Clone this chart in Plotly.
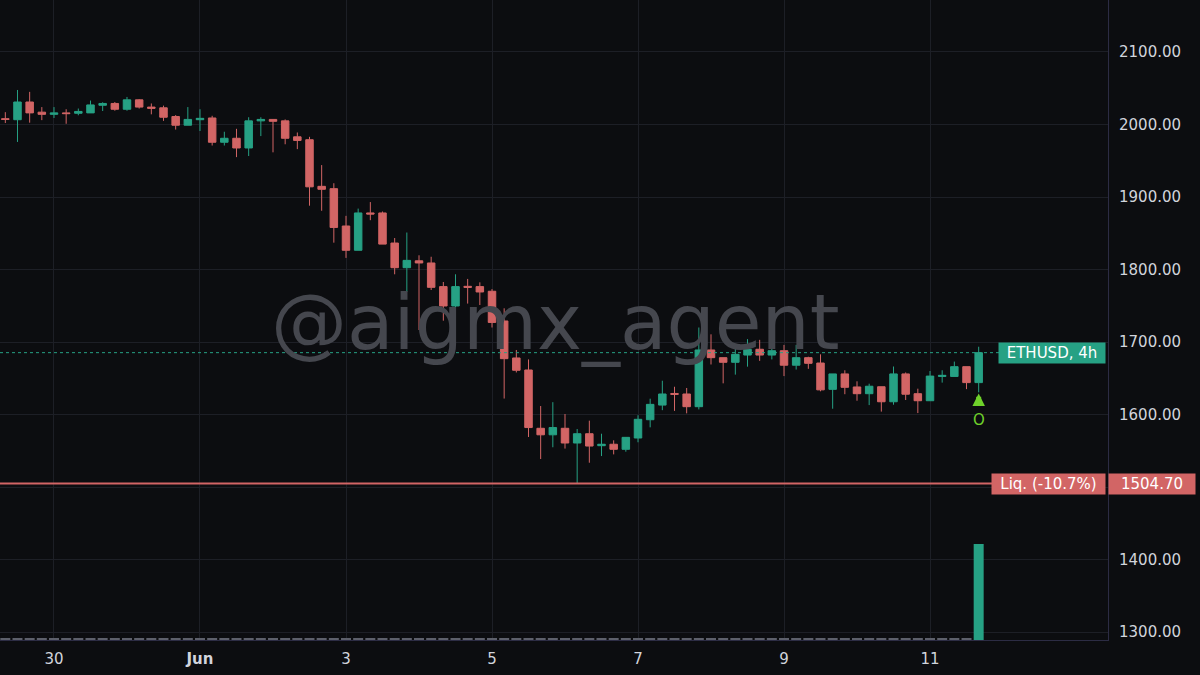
import pandas as pd
import plotly.graph_objects as go

# ---- data ----
start_time = "2023-05-29 08:00"
opens = [2008, 2006.6, 2031, 2017, 2014, 2016, 2015.5, 2016, 2026.5, 2029,
         2021, 2034, 2024, 2023, 2011, 1999, 2006.6, 2009, 1975.5, 1981,
         1967.6, 2005, 2007, 2005, 1983, 1979, 1914.7, 1911.5, 1860, 1826.5,
         1878, 1878, 1836.5, 1802.5, 1812, 1809, 1776.4, 1749.7, 1776.8, 1776.4,
         1770, 1729, 1678, 1661.4, 1581, 1572, 1581, 1560.7, 1573.5, 1557,
         1559, 1552, 1567.6, 1592.8, 1613, 1629, 1628.3, 1610.8, 1689, 1678.4,
         1672, 1682, 1690, 1682, 1688, 1668, 1678.4, 1671, 1634.7, 1656,
         1638, 1628.7, 1638.3, 1617.6, 1656, 1628.7, 1619, 1652.5, 1652.5, 1666,
         1644]
highs = [2017, 2047.6, 2045, 2024, 2024, 2021, 2022, 2033, 2030.6, 2031,
         2038, 2035, 2029, 2026, 2013, 2024, 2021, 2012, 1990, 1994,
         2010, 2010, 2007, 2007, 1989, 1983, 1944, 1919, 1874, 1884,
         1893, 1880, 1843.4, 1851, 1819.6, 1817.6, 1782.8, 1793.4, 1787, 1782.3,
         1773, 1746.5, 1689, 1676, 1611.7, 1617, 1600.7, 1580, 1591.5, 1573.5,
         1564.4, 1568.5, 1599, 1621.8, 1646.6, 1638.3, 1636.6, 1720, 1710.6, 1678.4,
         1696, 1704, 1703, 1713, 1696, 1696, 1679.7, 1683, 1656, 1661,
         1645.8, 1642.5, 1638.3, 1666.2, 1658, 1635.6, 1660, 1661, 1673, 1666,
         1693.5]
lows = [2002, 1975.9, 2002.5, 2006, 2009, 2001, 2012.7, 2016, 2018.6, 2019,
        2019, 2022, 2014, 2005, 1993, 1999, 1991, 1971, 1971, 1955,
        1956.5, 1984, 1961.6, 1972.7, 1966, 1888, 1881, 1837, 1816, 1826.5,
        1868, 1835, 1793.4, 1769, 1716.5, 1771.7, 1729.4, 1742.7, 1753, 1751,
        1720, 1622, 1658, 1569, 1538.6, 1554.8, 1553, 1505, 1533.5, 1542.7,
        1545, 1548.7, 1561.7, 1582.3, 1606, 1605, 1601.6, 1607, 1669, 1643,
        1655, 1666, 1674, 1676, 1653, 1662, 1663, 1632, 1608, 1628,
        1619, 1613, 1604, 1613.5, 1620, 1602, 1619, 1644, 1652.5, 1635,
        1630.6]
closes = [2007, 2031, 2016, 2014, 2016, 2015, 2018, 2027, 2029, 2021,
          2034, 2024, 2022.3, 2010, 1999, 2007, 2008.5, 1975.5, 1981, 1967.6,
          2005, 2007, 2004.4, 1981, 1978, 1914, 1910.6, 1858, 1826.5, 1878,
          1876.5, 1835, 1802.5, 1812.6, 1809, 1775.4, 1749.7, 1776.4, 1775.4, 1769,
          1727, 1677, 1661, 1582, 1572, 1582, 1560.7, 1573.5, 1556.5, 1559,
          1552, 1568.5, 1593.4, 1614, 1628.3, 1627.8, 1610.8, 1689, 1678.4, 1672,
          1683, 1690, 1682, 1688, 1668, 1678.4, 1670.6, 1634, 1656, 1637.5,
          1628.7, 1639, 1617.6, 1656, 1628, 1619, 1653, 1654, 1666, 1644,
          1685.3]
volumes = [1] * 80 + [48]
volume_colors = ["#5d606b"] * 80 + ["#26a184"]

tick_dates = ["2023-05-30", "2023-06-01", "2023-06-03", "2023-06-05",
              "2023-06-07", "2023-06-09", "2023-06-11"]
tick_labels = ["30", "<b>Jun</b>", "3", "5", "7", "9", "11"]
price_ticks = [1300, 1400, 1500, 1600, 1700, 1800, 1900, 2000, 2100]
price_tick_labels = ["1300.00", "1400.00", "", "1600.00", "1700.00",
                     "1800.00", "1900.00", "2000.00", "2100.00"]

last_price = 1685.3
liq_price = 1504.70
symbol_label = "ETHUSD, 4h"
liq_label = "Liq. (-10.7%)"
watermark = "@aigmx_agent"
arrow_tip_price = 1629
arrow_tail_price = 1610
signal_price = 1592
signal_text = "O"

times = pd.date_range(start_time, periods=len(opens), freq="4h")

GREEN = "#26a184"
RED = "#d26565"
BG = "#0c0d10"
GRID = "#1d1f26"
TXT = "#d1d4dc"
BORDER = "#2c2c44"
LIME = "#6fd12a"
FS = 15

fig = go.Figure()

fig.add_trace(go.Bar(
    x=times, y=volumes, marker=dict(color=volume_colors, line=dict(width=0)),
    yaxis="y2", showlegend=False, hoverinfo="skip", width=10 * 4 * 3600 * 1000 / 12.17,
))

fig.add_trace(go.Candlestick(
    x=times, open=opens, high=highs, low=lows, close=closes,
    increasing=dict(line=dict(color=GREEN, width=1), fillcolor=GREEN),
    decreasing=dict(line=dict(color=RED, width=1), fillcolor=RED),
    whiskerwidth=0, showlegend=False,
))

fig.update_layout(
    width=1200, height=675,
    paper_bgcolor=BG, plot_bgcolor=BG,
    margin=dict(l=0, r=92, t=0, b=35),
    boxgap=0.12,
    font=dict(family="DejaVu Sans", color=TXT, size=FS),
    xaxis=dict(
        type="date", range=["2023-05-29 06:15", "2023-06-13 10:31"],
        tickvals=pd.to_datetime(tick_dates), ticktext=tick_labels,
        showgrid=True, gridcolor=GRID, gridwidth=1,
        showline=True, linecolor=BORDER, linewidth=1,
        rangeslider=dict(visible=False), ticks="", ticklabelstandoff=5,
        zeroline=False, tickfont=dict(size=FS, color=TXT),
    ),
    yaxis=dict(
        side="right", range=[1289, 2171.7],
        tickvals=price_ticks, ticktext=price_tick_labels,
        showgrid=True, gridcolor=GRID, gridwidth=1,
        showline=True, linecolor=BORDER, linewidth=1,
        ticks="", ticklabelstandoff=7, zeroline=False,
        tickfont=dict(size=FS, color=TXT),
    ),
    yaxis2=dict(overlaying="y", range=[0, 320], visible=False, showgrid=False),
    shapes=[
        dict(type="line", xref="paper", yref="y", x0=0, x1=0.903,
             y0=last_price, y1=last_price, line=dict(color=GREEN, width=1, dash="dot")),
        dict(type="line", xref="paper", yref="y", x0=0, x1=0.897,
             y0=liq_price, y1=liq_price, line=dict(color=RED, width=2)),
    ],
    annotations=[
        dict(text=watermark, xref="paper", yref="paper", x=555 / 1108, y=1 - 322 / 640,
             showarrow=False, font=dict(size=76, color="#45474e", family="DejaVu Sans"),
             xanchor="center", yanchor="middle"),
        dict(text=symbol_label, xref="paper", yref="y", x=0.9985, y=last_price,
             xanchor="right", yanchor="middle", showarrow=False, bgcolor=GREEN,
             font=dict(color="white", size=FS), borderpad=2, width=102, height=16),
        dict(text=liq_label, xref="paper", yref="y", x=0.9985, y=liq_price,
             xanchor="right", yanchor="middle", showarrow=False, bgcolor=RED,
             font=dict(color="white", size=FS), borderpad=2, width=109, height=16),
        dict(text=f"{liq_price:.2f}", xref="paper", yref="y", x=1.0, y=liq_price,
             xanchor="left", yanchor="middle", showarrow=False, bgcolor=RED,
             font=dict(color="white", size=FS), borderpad=2, width=82, height=16),
        dict(text="", x=times[-1], y=arrow_tip_price, xref="x", yref="y",
             ax=times[-1], ay=arrow_tail_price, axref="x", ayref="y",
             showarrow=True, arrowhead=2, arrowsize=0.5, arrowwidth=5,
             arrowcolor=LIME),
        dict(text=signal_text, x=times[-1], y=signal_price, xref="x", yref="y",
             showarrow=False, font=dict(color=LIME, size=FS)),
    ],
)

fig.write_html("out.html", config={"displayModeBar": False},
               post_script="document.body.style.margin='0';")
